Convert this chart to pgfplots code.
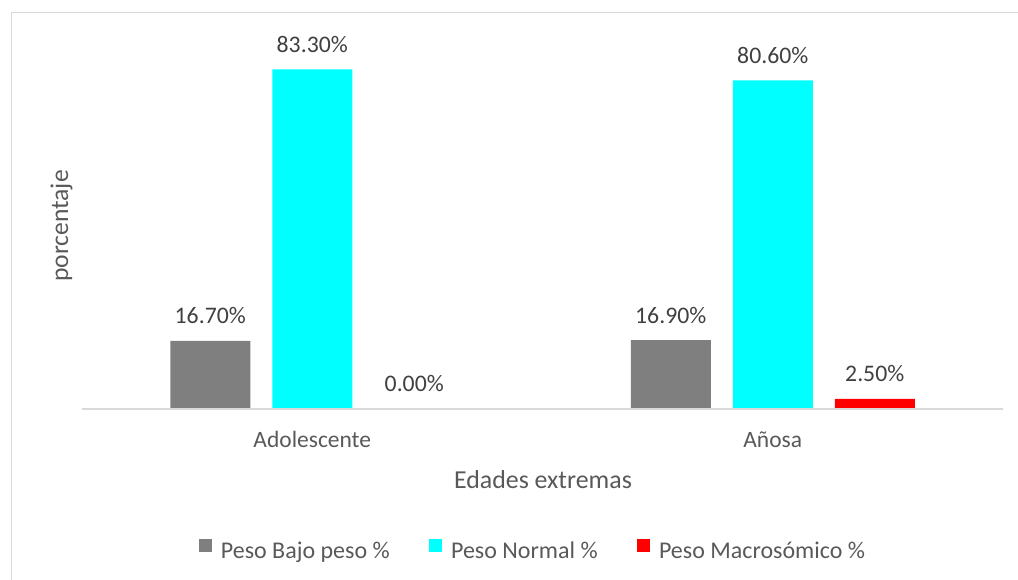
\documentclass[border=0pt]{standalone}
\usepackage{pgfplots}
\pgfplotsset{compat=1.18}
\usepackage{fontspec}
\setmainfont{Carlito}

\definecolor{barGray}{HTML}{7F7F7F}
\definecolor{barCyan}{HTML}{00FFFF}
\definecolor{barRed}{HTML}{FF0000}
\definecolor{gridGray}{HTML}{D9D9D9}
\definecolor{labelDark}{HTML}{404040}
\definecolor{labelGray}{HTML}{595959}

\begin{document}
\begin{tikzpicture}[x=0.75pt,y=0.75pt]
  % page frame: 1018 x 580 px at 0.75pt per px
  \useasboundingbox (0,0) rectangle (1018,580);
  % chart border (only top and left edges fall inside the page)
  \draw[gridGray, line width=1.1pt] (1040,567.5) -- (11.5,567.5) -- (11.5,-20);
  \coordinate (plotorigin) at (82,171);

  \begin{axis}[
    at={(plotorigin)}, anchor=south west,
    scale only axis,
    width=690.75pt, height=275.25pt,
    xmin=-0.5, xmax=1.5, ymin=0, ymax=90,
    ybar=16.5pt, bar width=60pt,
    axis on top,
    axis y line=left,
    y axis line style={draw=none},
    ytick=\empty,
    axis x line=bottom,
    x axis line style={-, gridGray, line width=1.1pt},
    xtick={0,1},
    xticklabels={Adolescente, Añosa},
    major tick length=0pt,
    xticklabel style={anchor=base, yshift=-29.25pt, text=labelGray,
      font=\fontsize{17.6pt}{20pt}\selectfont},
    xlabel={Edades extremas},
    xlabel style={at={(rel axis cs:0.5005,0)}, anchor=base, yshift=-60pt,
      text=labelGray, font=\fontsize{19.4pt}{22pt}\selectfont},
    ylabel={porcentaje},
    ylabel style={at={(rel axis cs:-0.0152,0.4986)}, anchor=base, rotate=0,
      text=labelGray, font=\fontsize{19.2pt}{22pt}\selectfont},
    nodes near coords={\pgfmathprintnumber[fixed,fixed zerofill,precision=2,assume math mode=true]{\pgfplotspointmeta}\%},
    every node near coord/.append style={anchor=base, yshift=12.75pt,
      text=labelDark, font=\fontsize{17.8pt}{20pt}\selectfont},
    legend columns=3,
    legend style={at={(rel axis cs:0.4902,-0.387)}, anchor=center,
      draw=none, fill=none, text=labelGray,
      font=\fontsize{18pt}{21pt}\selectfont,
      /tikz/every even column/.append style={column sep=27.75pt}},
    legend image code/.code={%
      \fill[#1] (0pt,-0.5pt) rectangle (9.75pt,9.25pt);
      \path (14.25pt,0pt);},
  ]
    \addplot[fill=barGray, draw=none] coordinates {(0,16.7) (1,16.9)};
    \addplot[fill=barCyan, draw=none] coordinates {(0,83.3) (1,80.6)};
    \addplot[fill=barRed, draw=none] coordinates {(0,0.0) (1,2.5)};
    \legend{Peso Bajo peso \%, Peso Normal \%, Peso Macrosómico \%}
  \end{axis}
\end{tikzpicture}
\end{document}
